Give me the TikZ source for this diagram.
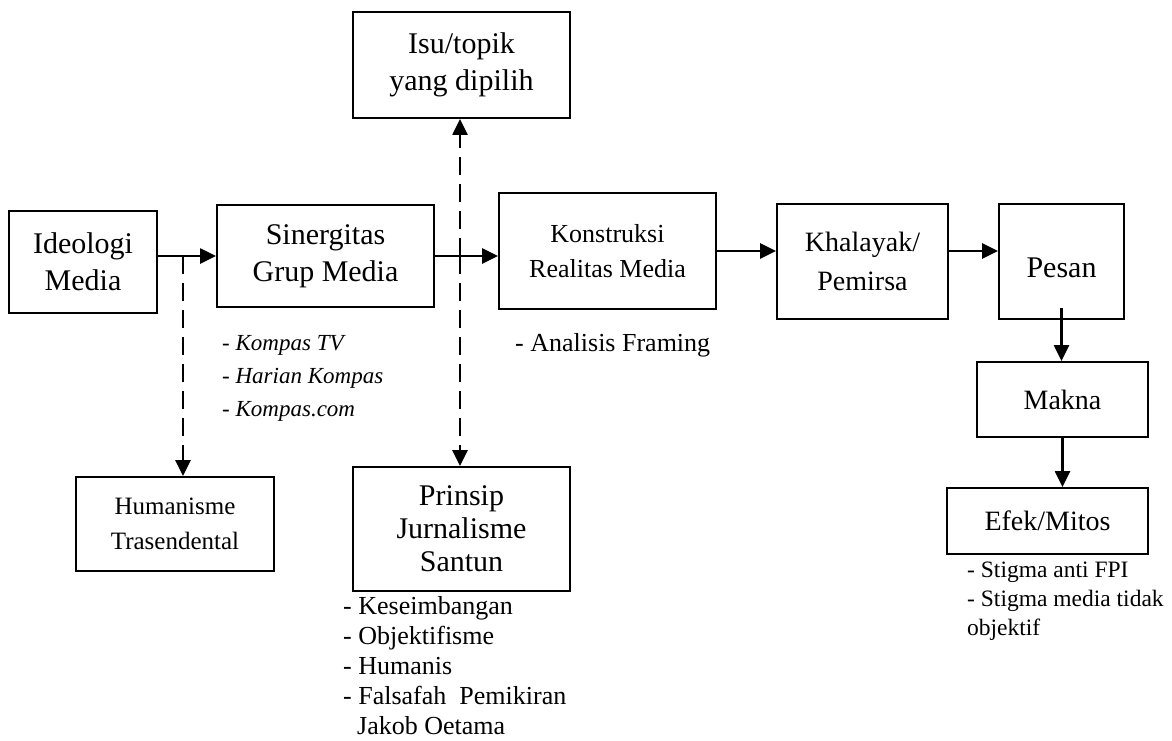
\documentclass[tikz,border=0pt]{standalone}
\usepackage{fontspec}
\setmainfont{Liberation Serif}
\usetikzlibrary{arrows.meta}

\begin{document}
\begin{tikzpicture}[x=1pt,y=-1pt,
  box/.style={draw,line width=1.9pt,inner sep=0pt,align=center,font=\fontsize{30}{37}\selectfont},
  arr/.style={line width=2.5pt,-{Triangle[length=16pt,width=15pt]}},
  dasharr/.style={arr,dash pattern=on 18pt off 9pt},
  list/.style={anchor=north west,inner sep=0pt,align=left}]
\useasboundingbox (0,0) rectangle (1172,740);
\node[box,minimum width=148pt,minimum height=102pt] (ideologi) at (83,262) {Ideologi\\Media};
\node[box,minimum width=217pt,minimum height=102pt] (sinergitas) at (325.5,256) {Sinergitas\\Grup Media};
\node[box,minimum width=217pt,minimum height=106pt] (isu) at (461.5,65) {Isu/topik\\yang dipilih};
\node[box,minimum width=217pt,minimum height=116pt,font=\fontsize{26}{35}\selectfont] (konstruksi) at (607.5,251) {Konstruksi\\Realitas Media};
\node[box,minimum width=171pt,minimum height=115pt,font=\fontsize{28}{39}\selectfont] (khalayak) at (862.5,261.5) {Khalayak/\\Pemirsa};
\node[box,minimum width=125pt,minimum height=115pt] (pesan) at (1061.5,261.5) {\raisebox{-6pt}[\height][\depth]{Pesan}};
\node[box,minimum width=171pt,minimum height=75pt,font=\fontsize{28}{34}\selectfont] (makna) at (1062.5,399.5) {Makna};
\node[box,minimum width=201pt,minimum height=66pt,font=\fontsize{28}{34}\selectfont] (efek) at (1047.5,521) {Efek/Mitos};
\node[box,minimum width=198pt,minimum height=94pt,font=\fontsize{25}{35}\selectfont] (humanisme) at (175,524) {Humanisme\\Trasendental};
\node[box,minimum width=217pt,minimum height=124pt,font=\fontsize{30}{33}\selectfont] (prinsip) at (461.5,529) {Prinsip\\Jurnalisme\\Santun};

% alur utama
\draw[arr] (ideologi.east |- sinergitas.west) -- (sinergitas.west);
\draw[arr] (sinergitas.east) -- (sinergitas.east -| konstruksi.west);
\draw[arr] (konstruksi.east) -- (konstruksi.east -| khalayak.west);
\draw[arr] (khalayak.east |- konstruksi.east) -- (pesan.west |- konstruksi.east);
\draw[arr] (pesan.south) ++(0,-12) -- (pesan.south |- makna.north);
\draw[arr] (makna.south) -- (makna.south |- efek.north);

% cabang putus-putus
\coordinate (cabang1) at (183,256);
\coordinate (cabang2) at (460,256);
\draw[dasharr] (cabang1) -- (cabang1 |- humanisme.north);
\draw[dasharr] (cabang2) -- (cabang2 |- isu.south);
\draw[dasharr] (cabang2) -- (cabang2 |- prinsip.north);

% keterangan
\node[list,font=\fontsize{23}{33}\selectfont] (grup) at (222,335) {- \textit{Kompas TV}\\- \textit{Harian Kompas}\\- \textit{Kompas.com}};
\node[list,font=\fontsize{26}{30}\selectfont] (framing) at (515,333) {- Analisis Framing};
\node[list,font=\fontsize{26}{30}\selectfont] (prinsiplist) at (343,596) {- Keseimbangan\\- Objektifisme\\- Humanis\\- Falsafah\ \ Pemikiran\\\hspace*{14pt}Jakob Oetama};
\node[list,font=\fontsize{23.5}{29}\selectfont] (stigma) at (967,562) {- Stigma anti FPI\\- Stigma media tidak\\objektif};
\end{tikzpicture}
\end{document}
